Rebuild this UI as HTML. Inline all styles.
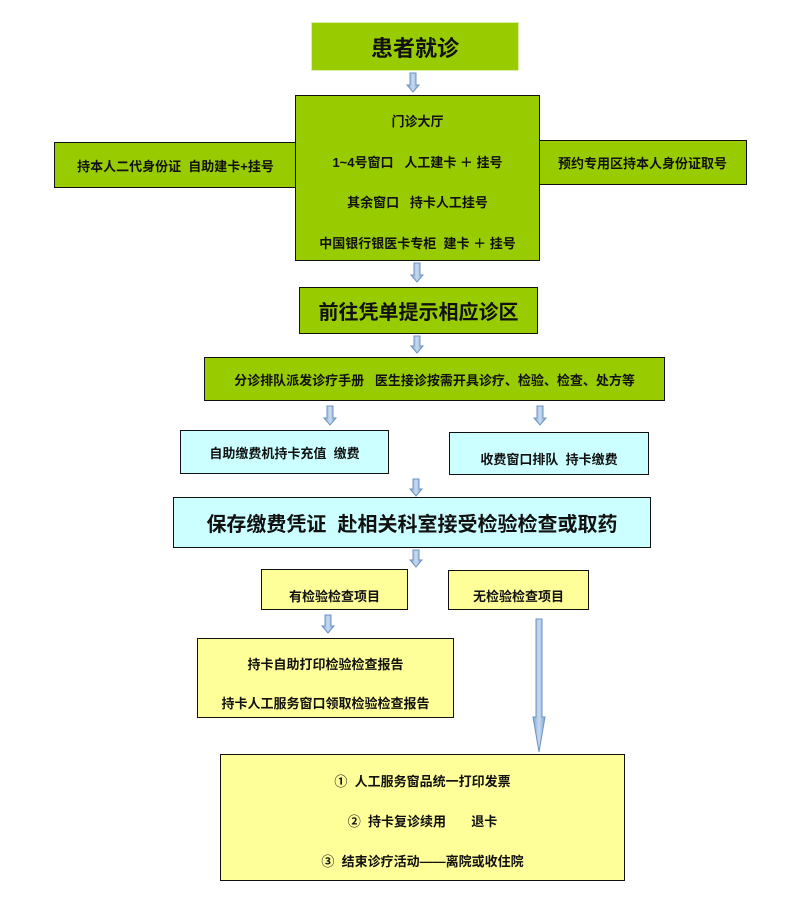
<!DOCTYPE html>
<html><head><meta charset="utf-8">
<style>
html,body{margin:0;padding:0;background:#fff;}
body{width:793px;height:902px;position:relative;overflow:hidden;font-family:"Liberation Sans","Noto Sans CJK SC",sans-serif;font-weight:bold;color:#111;}
.b{position:absolute;box-sizing:border-box;border:1.5px solid #111;display:flex;flex-direction:column;align-items:center;justify-content:center;text-align:center;font-size:13px;white-space:nowrap;}
.b div{line-height:18px;}
.g{background:#99cc00;}
.c{background:#ccffff;}
.y{background:#ffff99;}
svg{position:absolute;left:0;top:0;}
</style></head><body>
<div class="b g" style="left:311px;top:22px;width:208px;height:49px;border:1.5px solid #d8f0a8;font-size:22px;">患者就诊</div>
<div class="b g" style="left:54px;top:142px;width:243px;height:46px;">持本人二代身份证&nbsp; 自助建卡+挂号</div>
<div class="b g" style="left:538px;top:140px;width:209px;height:45px;">预约专用区持本人身份证取号</div>
<div class="b g" style="left:295px;top:95px;width:245px;height:166px;justify-content:space-between;padding:17px 0 7px;">
<div>门诊大厅</div><div>1~4号窗口&nbsp;&nbsp; 人工建卡 ＋ 挂号</div><div>其余窗口&nbsp;&nbsp; 持卡人工挂号</div><div>中国银行银医卡专柜&nbsp; 建卡 ＋ 挂号</div></div>
<div class="b g" style="left:299px;top:287px;width:239px;height:47px;font-size:20px;">前往凭单提示相应诊区</div>
<div class="b g" style="left:204px;top:357px;width:461px;height:44px;">分诊排队派发诊疗手册&nbsp;&nbsp; 医生接诊按需开具诊疗、检验、检查、处方等</div>
<div class="b c" style="left:180px;top:430px;width:209px;height:44px;">自助缴费机持卡充值&nbsp; 缴费</div>
<div class="b c" style="left:449px;top:432px;width:200px;height:43px;padding-top:10px;">收费窗口排队&nbsp; 持卡缴费</div>
<div class="b c" style="left:173px;top:497px;width:478px;height:51px;font-size:20px;">保存缴费凭证&nbsp; 赴相关科室接受检验检查或取药</div>
<div class="b y" style="left:261px;top:569px;width:147px;height:41px;padding-top:12px;">有检验检查项目</div>
<div class="b y" style="left:448px;top:570px;width:141px;height:40px;padding-top:10px;">无检验检查项目</div>
<div class="b y" style="left:197px;top:638px;width:257px;height:80px;justify-content:space-between;padding:17px 0 4px;"><div>持卡自助打印检验检查报告</div><div>持卡人工服务窗口领取检验检查报告</div></div>
<div class="b y" style="left:220px;top:754px;width:405px;height:127px;justify-content:space-between;padding:18px 0 9px;"><div>①&nbsp; 人工服务窗品统一打印发票</div><div>②&nbsp; 持卡复诊续用&nbsp;&nbsp;&nbsp;&nbsp;&nbsp;&nbsp; 退卡</div><div>③&nbsp; 结束诊疗活动——离院或收住院</div></div>
<svg width="793" height="902">
<defs><linearGradient id="a" x1="0" x2="1"><stop offset="0" stop-color="#7ea6d4"/><stop offset=".5" stop-color="#c8daf0"/><stop offset="1" stop-color="#7ea6d4"/></linearGradient></defs>
<g fill="url(#a)" stroke="#6f93c0" stroke-width="1">
<path d="M410 73h6v12h3l-6 7-6-7h3z"/>
<path d="M414 263h6v12h3l-6 7-6-7h3z"/>
<path d="M414 336h6v10h3l-6 7-6-7h3z"/>
<path d="M327 406h6v12h3l-6 7-6-7h3z"/>
<path d="M537 406h6v12h3l-6 7-6-7h3z"/>
<path d="M413 479h6v10h3l-6 7-6-7h3z"/>
<path d="M413 550h6v10h3l-6 7-6-7h3z"/>
<path d="M325 615h6v11h3l-6 7-6-7h3z"/>
<path d="M536 619h6v98h3l-6 35-6-35h3z"/>
</g></svg>
</body></html>
